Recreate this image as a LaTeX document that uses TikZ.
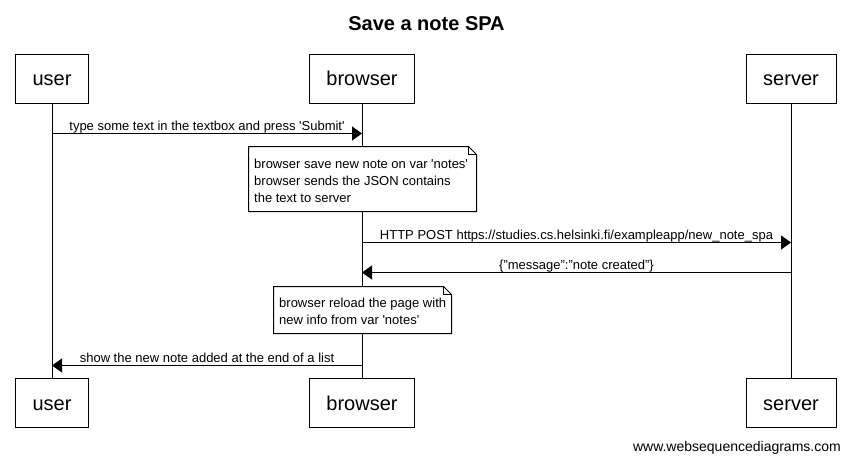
\documentclass[tikz,border=0pt]{standalone}
\usepackage{fontspec}
\setmainfont{Liberation Sans}
\usetikzlibrary{arrows.meta}
\newcommand{\sq}{\textquotesingle}
\begin{document}
\begin{tikzpicture}[x=1pt,y=-1pt,
  actor/.style={draw, line width=1pt, minimum height=49pt, inner sep=0pt, text height=14pt, text depth=0pt, font=\fontsize{20}{24}\selectfont},
  msg/.style={line width=1pt, -{Triangle[length=10pt,width=14pt]}},
  lbl/.style={font=\fontsize{13}{15}\selectfont, inner sep=0pt, anchor=base, yshift=3.5pt},
  notetext/.style={font=\fontsize{13}{17}\selectfont, inner sep=0pt, anchor=base west},
  noteline/.style={line width=1pt, line join=miter}
]
\useasboundingbox[fill=white] (0,0) rectangle (851,461);

% title
\node[font=\bfseries\fontsize{20}{24}\selectfont, inner sep=0pt, anchor=base] (title) at (426.5,30) {Save a note SPA};

% actors
\node[actor, minimum width=73pt] (userT) at (52,78.5) {user};
\node[actor, minimum width=105pt] (browserT) at (362,78.5) {browser};
\node[actor, minimum width=90pt] (serverT) at (791,78.5) {server};
\node[actor, minimum width=73pt] (userB) at (52,403) {user};
\node[actor, minimum width=105pt] (browserB) at (362,403) {browser};
\node[actor, minimum width=90pt] (serverB) at (791,403) {server};

% lifelines
\draw[line width=1pt] (userT.south) -- (userB.north);
\draw[line width=1pt] (browserT.south) -- (browserB.north);
\draw[line width=1pt] (serverT.south) -- (serverB.north);

% message rows
\coordinate (y1) at (0,133.5);
\coordinate (y2) at (0,242.5);
\coordinate (y3) at (0,272.5);
\coordinate (y4) at (0,365.5);

\draw[msg] (userT |- y1) -- node[lbl] (l1) {type some text in the textbox and press \sq Submit\sq} (browserT |- y1);

% note 1
\coordinate (n1a) at (248.5,146.5);
\coordinate (n1b) at (476.5,211.5);
\fill[white] (n1a) rectangle (n1b);
\draw[noteline] (n1a) -- (468.5,146.5) -- (476.5,154.5) -- (476.5,211.5) -- (248.5,211.5) -- cycle;
\draw[line width=0.8pt] (468.5,146.5) -- (468.5,154.5) -- (476.5,154.5);
\node[notetext] (note1) at (254,168) {\parbox[t]{220pt}{\raggedright browser save new note on var \sq notes\sq\\browser sends the JSON contains\\the text to server}};

\draw[msg] (browserT |- y2) -- node[lbl] (l2) {HTTP POST https://studies.cs.helsinki.fi/exampleapp/new\_note\_spa} (serverT |- y2);
\draw[msg] (serverT |- y3) -- node[lbl] (l3) {\{"message":"note created"\}} (browserT |- y3);

% note 2
\coordinate (n2a) at (273.5,286.5);
\coordinate (n2b) at (451.5,333.5);
\fill[white] (n2a) rectangle (n2b);
\draw[noteline] (n2a) -- (443.5,286.5) -- (451.5,294.5) -- (451.5,333.5) -- (273.5,333.5) -- cycle;
\draw[line width=0.8pt] (443.5,286.5) -- (443.5,294.5) -- (451.5,294.5);
\node[notetext] (note2) at (279,307.5) {\parbox[t]{170pt}{\raggedright browser reload the page with\\new info from var \sq notes\sq}};

\draw[msg] (browserT |- y4) -- node[lbl] (l4) {show the new note added at the end of a list} (userT |- y4);

% footer
\node[font=\fontsize{14}{16}\selectfont, inner sep=0pt, anchor=base east] (footer) at (841,451) {www.websequencediagrams.com};
\end{tikzpicture}
\end{document}
